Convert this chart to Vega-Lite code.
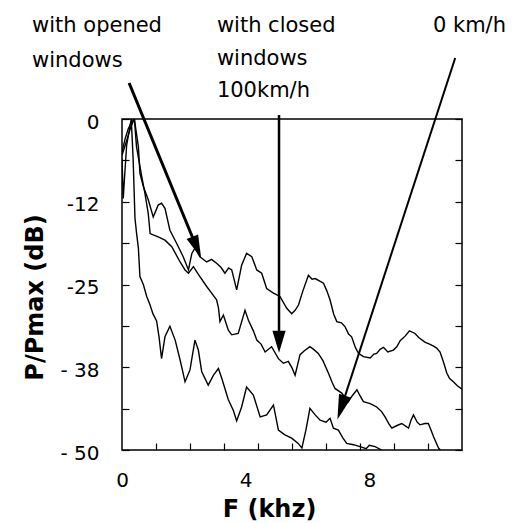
{
  "$schema": "https://vega.github.io/schema/vega-lite/v6.json",
  "width": 340,
  "height": 331,
  "autosize": {"type": "none"},
  "padding": {"left": 122, "top": 119, "right": 52, "bottom": 73},
  "background": "white",
  "config": {
    "view": {"stroke": "black", "strokeWidth": 1.5},
    "font": "DejaVu Sans",
    "axis": {"domain": false, "grid": false, "tickColor": "black", "labelColor": "black", "titleColor": "black", "labelFont": "DejaVu Sans", "titleFont": "DejaVu Sans"}
  },
  "datasets": {
    "curves": [
      {"s":"open","f":0,"db":-5},{"s":"open","f":0.1,"db":-3},{"s":"open","f":0.2,"db":-1.5},{"s":"open","f":0.3,"db":-0.5},{"s":"open","f":0.4,"db":0},{"s":"open","f":0.53,"db":-4.2},{"s":"open","f":0.58,"db":-8.2},{"s":"open","f":0.69,"db":-10.2},{"s":"open","f":0.85,"db":-12.2},{"s":"open","f":1.01,"db":-14.8},{"s":"open","f":1.1,"db":-13.8},{"s":"open","f":1.17,"db":-13.0},{"s":"open","f":1.28,"db":-12.7},{"s":"open","f":1.39,"db":-13.5},{"s":"open","f":1.55,"db":-16.8},{"s":"open","f":1.77,"db":-18.8},{"s":"open","f":1.98,"db":-20.8},{"s":"open","f":2.15,"db":-22.8},{"s":"open","f":2.26,"db":-20.3},{"s":"open","f":2.36,"db":-19.5},{"s":"open","f":2.52,"db":-20.8},{"s":"open","f":2.74,"db":-21.6},{"s":"open","f":2.9,"db":-21.2},{"s":"open","f":3.06,"db":-21.8},{"s":"open","f":3.2,"db":-22.4},{"s":"open","f":3.33,"db":-23.3},{"s":"open","f":3.45,"db":-22.5},{"s":"open","f":3.55,"db":-22.8},{"s":"open","f":3.71,"db":-25.8},{"s":"open","f":3.87,"db":-22.1},{"s":"open","f":4.03,"db":-20.3},{"s":"open","f":4.2,"db":-20.8},{"s":"open","f":4.36,"db":-22.8},{"s":"open","f":4.52,"db":-23.3},{"s":"open","f":4.68,"db":-25.6},{"s":"open","f":4.9,"db":-26.3},{"s":"open","f":5.11,"db":-26.8},{"s":"open","f":5.33,"db":-28.6},{"s":"open","f":5.49,"db":-29.4},{"s":"open","f":5.6,"db":-28.9},{"s":"open","f":5.71,"db":-28.1},{"s":"open","f":5.85,"db":-26},{"s":"open","f":6.03,"db":-23.6},{"s":"open","f":6.15,"db":-24.2},{"s":"open","f":6.25,"db":-24.1},{"s":"open","f":6.4,"db":-24.5},{"s":"open","f":6.52,"db":-24.8},{"s":"open","f":6.63,"db":-26},{"s":"open","f":6.73,"db":-27.3},{"s":"open","f":6.85,"db":-29.5},{"s":"open","f":6.95,"db":-30.6},{"s":"open","f":7.1,"db":-30.8},{"s":"open","f":7.22,"db":-31.4},{"s":"open","f":7.33,"db":-32.5},{"s":"open","f":7.43,"db":-32.9},{"s":"open","f":7.55,"db":-34.5},{"s":"open","f":7.65,"db":-35.4},{"s":"open","f":7.81,"db":-35.9},{"s":"open","f":8.03,"db":-36.1},{"s":"open","f":8.15,"db":-35.5},{"s":"open","f":8.24,"db":-35.4},{"s":"open","f":8.35,"db":-34.8},{"s":"open","f":8.46,"db":-34.5},{"s":"open","f":8.6,"db":-35.2},{"s":"open","f":8.78,"db":-34.9},{"s":"open","f":8.89,"db":-34.4},{"s":"open","f":9.0,"db":-33.5},{"s":"open","f":9.16,"db":-32.8},{"s":"open","f":9.3,"db":-32.0},{"s":"open","f":9.48,"db":-32.4},{"s":"open","f":9.6,"db":-33.0},{"s":"open","f":9.8,"db":-33.7},{"s":"open","f":9.95,"db":-34.0},{"s":"open","f":10.08,"db":-34.3},{"s":"open","f":10.18,"db":-34.6},{"s":"open","f":10.29,"db":-35.2},{"s":"open","f":10.4,"db":-36.7},{"s":"open","f":10.51,"db":-38.4},{"s":"open","f":10.6,"db":-39.2},{"s":"open","f":10.72,"db":-39.7},{"s":"open","f":10.85,"db":-40.3},{"s":"open","f":11.0,"db":-40.8},
      {"s":"closed","f":0,"db":-5.5},{"s":"closed","f":0.1,"db":-4},{"s":"closed","f":0.2,"db":-2.5},{"s":"closed","f":0.3,"db":-1},{"s":"closed","f":0.4,"db":0},{"s":"closed","f":0.47,"db":-4.2},{"s":"closed","f":0.64,"db":-8.7},{"s":"closed","f":0.74,"db":-11.2},{"s":"closed","f":0.85,"db":-14.3},{"s":"closed","f":0.91,"db":-17.3},{"s":"closed","f":1.01,"db":-17.5},{"s":"closed","f":1.17,"db":-17.8},{"s":"closed","f":1.39,"db":-18.3},{"s":"closed","f":1.61,"db":-19.3},{"s":"closed","f":1.88,"db":-21.6},{"s":"closed","f":2.04,"db":-22.8},{"s":"closed","f":2.15,"db":-23.3},{"s":"closed","f":2.31,"db":-22.3},{"s":"closed","f":2.52,"db":-23.8},{"s":"closed","f":2.74,"db":-25.3},{"s":"closed","f":2.9,"db":-26.3},{"s":"closed","f":3.06,"db":-27.3},{"s":"closed","f":3.12,"db":-28.5},{"s":"closed","f":3.17,"db":-30.6},{"s":"closed","f":3.28,"db":-29.6},{"s":"closed","f":3.44,"db":-31.9},{"s":"closed","f":3.55,"db":-32.6},{"s":"closed","f":3.76,"db":-32.4},{"s":"closed","f":3.98,"db":-28.9},{"s":"closed","f":4.09,"db":-30.4},{"s":"closed","f":4.25,"db":-32},{"s":"closed","f":4.36,"db":-33.4},{"s":"closed","f":4.5,"db":-34},{"s":"closed","f":4.63,"db":-35.2},{"s":"closed","f":4.84,"db":-34.4},{"s":"closed","f":5.06,"db":-36.2},{"s":"closed","f":5.22,"db":-36.9},{"s":"closed","f":5.38,"db":-36.6},{"s":"closed","f":5.5,"db":-37.6},{"s":"closed","f":5.6,"db":-38.7},{"s":"closed","f":5.76,"db":-35.6},{"s":"closed","f":5.9,"db":-35.0},{"s":"closed","f":6.08,"db":-34.4},{"s":"closed","f":6.2,"db":-34.8},{"s":"closed","f":6.35,"db":-35.4},{"s":"closed","f":6.5,"db":-36.5},{"s":"closed","f":6.68,"db":-38.4},{"s":"closed","f":6.8,"db":-39.8},{"s":"closed","f":6.89,"db":-40.7},{"s":"closed","f":7.11,"db":-41.4},{"s":"closed","f":7.32,"db":-42.7},{"s":"closed","f":7.45,"db":-41.8},{"s":"closed","f":7.6,"db":-40.9},{"s":"closed","f":7.7,"db":-41.8},{"s":"closed","f":7.81,"db":-42.7},{"s":"closed","f":8.03,"db":-43.0},{"s":"closed","f":8.24,"db":-43.5},{"s":"closed","f":8.4,"db":-44.2},{"s":"closed","f":8.51,"db":-45.0},{"s":"closed","f":8.63,"db":-46},{"s":"closed","f":8.73,"db":-46.7},{"s":"closed","f":8.9,"db":-46.3},{"s":"closed","f":9.05,"db":-46.0},{"s":"closed","f":9.27,"db":-46.7},{"s":"closed","f":9.35,"db":-45.5},{"s":"closed","f":9.43,"db":-44.7},{"s":"closed","f":9.55,"db":-45.8},{"s":"closed","f":9.64,"db":-46.2},{"s":"closed","f":9.8,"db":-46.0},{"s":"closed","f":9.91,"db":-46.0},{"s":"closed","f":10.0,"db":-47},{"s":"closed","f":10.08,"db":-48.0},{"s":"closed","f":10.24,"db":-49.7},{"s":"closed","f":10.3,"db":-50},
      {"s":"idle","f":0,"db":-6},{"s":"idle","f":0.04,"db":-12},{"s":"idle","f":0.08,"db":-9},{"s":"idle","f":0.15,"db":-4},{"s":"idle","f":0.3,"db":0},{"s":"idle","f":0.36,"db":-6},{"s":"idle","f":0.42,"db":-15},{"s":"idle","f":0.47,"db":-17.2},{"s":"idle","f":0.53,"db":-19.5},{"s":"idle","f":0.58,"db":-23.8},{"s":"idle","f":0.69,"db":-25},{"s":"idle","f":0.8,"db":-26.8},{"s":"idle","f":0.9,"db":-28},{"s":"idle","f":1.0,"db":-29.4},{"s":"idle","f":1.12,"db":-30.5},{"s":"idle","f":1.2,"db":-33},{"s":"idle","f":1.28,"db":-36.2},{"s":"idle","f":1.39,"db":-32.9},{"s":"idle","f":1.55,"db":-31.3},{"s":"idle","f":1.72,"db":-33.4},{"s":"idle","f":1.88,"db":-36.4},{"s":"idle","f":2.04,"db":-39.7},{"s":"idle","f":2.2,"db":-37.9},{"s":"idle","f":2.36,"db":-33.4},{"s":"idle","f":2.47,"db":-34.9},{"s":"idle","f":2.58,"db":-38.2},{"s":"idle","f":2.79,"db":-40.2},{"s":"idle","f":2.96,"db":-38.7},{"s":"idle","f":3.12,"db":-37.7},{"s":"idle","f":3.23,"db":-39.2},{"s":"idle","f":3.44,"db":-42.4},{"s":"idle","f":3.6,"db":-44},{"s":"idle","f":3.71,"db":-45.6},{"s":"idle","f":3.87,"db":-43.5},{"s":"idle","f":4.03,"db":-40.5},{"s":"idle","f":4.25,"db":-41.7},{"s":"idle","f":4.47,"db":-45.0},{"s":"idle","f":4.68,"db":-44.7},{"s":"idle","f":4.9,"db":-43.2},{"s":"idle","f":5.06,"db":-47.0},{"s":"idle","f":5.27,"db":-47.7},{"s":"idle","f":5.49,"db":-48.2},{"s":"idle","f":5.7,"db":-49},{"s":"idle","f":5.82,"db":-49.7},{"s":"idle","f":5.95,"db":-47},{"s":"idle","f":6.08,"db":-43.7},{"s":"idle","f":6.25,"db":-44.7},{"s":"idle","f":6.41,"db":-45.5},{"s":"idle","f":6.6,"db":-45.8},{"s":"idle","f":6.73,"db":-45.2},{"s":"idle","f":6.84,"db":-46.7},{"s":"idle","f":7.0,"db":-47.0},{"s":"idle","f":7.15,"db":-48.2},{"s":"idle","f":7.27,"db":-49.0},{"s":"idle","f":7.49,"db":-49.2},{"s":"idle","f":7.7,"db":-49.5},{"s":"idle","f":7.9,"db":-49.8},{"s":"idle","f":8.0,"db":-49.3},{"s":"idle","f":8.19,"db":-49.5},{"s":"idle","f":8.4,"db":-50}
    ],
    "notes": [
      {"text":"with opened","f":-2.91,"db":13.19},
      {"text":"windows","f":-2.91,"db":7.9},
      {"text":"with closed","f":3.07,"db":13.19},
      {"text":"windows","f":3.07,"db":8.16},
      {"text":"100km/h","f":3.07,"db":3.37},
      {"text":"0 km/h","f":10.06,"db":13.19}
    ],
    "arrows": [
      {"arrow":"a1","part":"tail","f":0.23,"db":5.44},
      {"arrow":"a1","part":"base","f":2.31,"db":-18.2},
      {"arrow":"a1","part":"tip","f":2.56,"db":-21.0},
      {"arrow":"a2","part":"tail","f":5.08,"db":0.6},
      {"arrow":"a2","part":"base","f":5.08,"db":-32.3},
      {"arrow":"a2","part":"tip","f":5.08,"db":-35.3},
      {"arrow":"a3","part":"tail","f":10.78,"db":9.21},
      {"arrow":"a3","part":"base","f":7.17,"db":-42.5},
      {"arrow":"a3","part":"tip","f":6.97,"db":-45.4}
    ]
  },
  "layer": [
    {
      "data": {"name": "curves"},
      "mark": {"type": "line", "color": "black", "strokeWidth": 1.4, "clip": true},
      "encoding": {
        "x": {"field": "f", "type": "quantitative", "scale": {"domain": [0, 11], "nice": false, "zero": false},
              "axis": {"orient": "bottom", "values": [1.1,2.2,3.3,4.4,5.5,6.6,7.7,8.8,9.9], "labels": false, "tickSize": -7, "tickWidth": 1.2, "title": null}},
        "y": {"field": "db", "type": "quantitative", "scale": {"domain": [-50, 0], "nice": false, "zero": false},
              "axis": {"orient": "left", "values": [0,-6.25,-12.5,-18.75,-25,-31.25,-37.5,-43.75,-50],
                       "labelExpr": "datum.value == 0 ? '0' : datum.value == -12.5 ? '-12' : datum.value == -25 ? '-25' : datum.value == -37.5 ? '- 38' : datum.value == -50 ? '- 50' : ''",
                       "tickSize": -7, "tickWidth": 1.2, "labelPadding": 30, "labelFontSize": 20, "labelOffset": 3, "labelOverlap": false, "labelBound": false,
                       "title": "P/Pmax (dB)", "titleFontSize": 24, "titleFontWeight": "bold", "titleX": -80, "titleY": 178, "titleBaseline": "alphabetic", "titleAlign": "center", "titleAngle": 270}},
        "detail": {"field": "s"}
      }
    },
    {
      "data": {"name": "notes"},
      "mark": {"type": "text", "align": "left", "baseline": "alphabetic", "fontSize": 21, "font": "DejaVu Sans", "color": "black", "clip": false},
      "encoding": {
        "x": {"field": "f", "type": "quantitative",
              "axis": {"orient": "bottom", "values": [0, 4, 8], "ticks": false, "labelPadding": 20, "labelFontSize": 20, "labelOverlap": false, "labelBound": false, "labelFlush": false,
                       "title": "F (khz)", "titleFontSize": 24, "titleFontWeight": "bold", "titleX": 147, "titleY": 66, "titleBaseline": "alphabetic", "titleAlign": "center"}},
        "y": {"field": "db", "type": "quantitative",
              "axis": {"orient": "right", "values": [0,-6.25,-12.5,-18.75,-25,-31.25,-37.5,-43.75,-50], "labels": false, "tickSize": -7, "tickWidth": 1.2, "title": null}},
        "text": {"field": "text"}
      }
    },
    {
      "data": {"name": "arrows"},
      "transform": [{"filter": "datum.part != 'tip'"}],
      "mark": {"type": "line", "color": "black", "clip": false},
      "encoding": {
        "x": {"field": "f", "type": "quantitative", "axis": null},
        "y": {"field": "db", "type": "quantitative", "axis": null},
        "detail": {"field": "arrow"},
        "strokeWidth": {"field": "arrow", "type": "nominal", "scale": {"domain": ["a1","a2","a3"], "range": [3, 2, 3.5]}, "legend": null}
      }
    },
    {
      "data": {"name": "arrows"},
      "transform": [{"filter": "datum.part == 'tip' && datum.arrow == 'a1'"}],
      "mark": {"type": "point", "shape": "M0,0L-0.27,-1L0.27,-1Z", "filled": true, "color": "black", "opacity": 1, "size": 2116, "strokeWidth": 0, "clip": false, "angle": 337.6},
      "encoding": {
        "x": {"field": "f", "type": "quantitative", "axis": null},
        "y": {"field": "db", "type": "quantitative", "axis": null}
      }
    },
    {
      "data": {"name": "arrows"},
      "transform": [{"filter": "datum.part == 'tip' && datum.arrow == 'a2'"}],
      "mark": {"type": "point", "shape": "M0,0L-0.3,-1L0.3,-1Z", "filled": true, "color": "black", "opacity": 1, "size": 1936, "strokeWidth": 0, "clip": false, "angle": 0},
      "encoding": {
        "x": {"field": "f", "type": "quantitative", "axis": null},
        "y": {"field": "db", "type": "quantitative", "axis": null}
      }
    },
    {
      "data": {"name": "arrows"},
      "transform": [{"filter": "datum.part == 'tip' && datum.arrow == 'a3'"}],
      "mark": {"type": "point", "shape": "M0,0L-0.26,-1L0.26,-1Z", "filled": true, "color": "black", "opacity": 1, "size": 2500, "strokeWidth": 0, "clip": false, "angle": 18.1},
      "encoding": {
        "x": {"field": "f", "type": "quantitative", "axis": null},
        "y": {"field": "db", "type": "quantitative", "axis": null}
      }
    }
  ],
  "resolve": {"axis": {"x": "independent", "y": "independent"}}
}
